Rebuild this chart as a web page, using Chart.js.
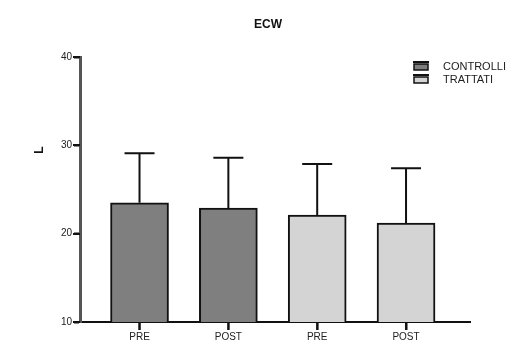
<!DOCTYPE html>
<html>
<head>
<meta charset="utf-8">
<script src="https://cdn.jsdelivr.net/npm/chart.js@4.4.0/dist/chart.umd.min.js"></script>
<style>
html,body{margin:0;padding:0;background:#fff;}
#wrap{width:530px;height:345px;position:relative;}
</style>
</head>
<body>
<div id="wrap"><canvas id="c" width="530" height="345"></canvas></div>
<script>
const chartTitle = 'ECW';
const yAxisTitle = 'L';
const categories = ['PRE', 'POST', 'PRE', 'POST'];
const positions = [1, 2, 3, 4];
const controlliPositions = [1, 2];
const controlliMeans = [23.5, 22.9];
const controlliSD = [5.6, 5.7];
const trattatiPositions = [3, 4];
const trattatiMeans = [22.1, 21.2];
const trattatiSD = [5.8, 6.2];
const yTicks = [10, 20, 30, 40];

const FONT = "'Liberation Sans', Arial, sans-serif";

const errorBarPlugin = {
  id: 'errorBars',
  afterDatasetsDraw(chart) {
    const ctx = chart.ctx;
    const y = chart.scales.y;
    chart.data.datasets.forEach((ds, i) => {
      const meta = chart.getDatasetMeta(i);
      meta.data.forEach((bar, j) => {
        const top = y.getPixelForValue(ds.data[j].y + ds.sd[j]);
        ctx.save();
        ctx.strokeStyle = '#111';
        ctx.lineWidth = 2;
        ctx.beginPath();
        ctx.moveTo(bar.x, bar.y);
        ctx.lineTo(bar.x, top);
        ctx.moveTo(bar.x - 15, top);
        ctx.lineTo(bar.x + 15, top);
        ctx.stroke();
        ctx.restore();
      });
    });
  }
};

const decorPlugin = {
  id: 'decor',
  afterDraw(chart) {
    const ctx = chart.ctx;
    ctx.save();
    ctx.fillStyle = '#111';
    ctx.font = 'bold 12px ' + FONT;
    ctx.textAlign = 'center';
    ctx.textBaseline = 'middle';
    ctx.fillText(chartTitle, 268, 25);
    // y-axis title
    ctx.save();
    ctx.translate(40, 150);
    ctx.rotate(-Math.PI / 2);
    ctx.font = 'bold 12px ' + FONT;
    ctx.fillText(yAxisTitle, 0, 0);
    ctx.restore();
    // legend
    ctx.font = '11px ' + FONT;
    ctx.textAlign = 'left';
    chart.data.datasets.forEach((ds, i) => {
      const cy = 66 + i * 13;
      const x0 = 414, w = 14;
      ctx.fillStyle = ds.backgroundColor;
      ctx.fillRect(x0, cy - 2, w, 6);
      ctx.strokeStyle = '#111';
      ctx.lineWidth = 1.5;
      ctx.strokeRect(x0, cy - 2, w, 6);
      ctx.lineWidth = 2;
      ctx.beginPath();
      ctx.moveTo(x0 - 1, cy - 4);
      ctx.lineTo(x0 + w + 1, cy - 4);
      ctx.stroke();
      ctx.fillStyle = '#222';
      ctx.fillText(ds.label, 443, cy + 1);
    });
    // tick marks
    const xs = chart.scales.x, ys = chart.scales.y;
    ctx.strokeStyle = '#111';
    ctx.lineWidth = 2;
    ctx.beginPath();
    positions.forEach(p => {
      const px = xs.getPixelForValue(p);
      ctx.moveTo(px, ys.bottom);
      ctx.lineTo(px, ys.bottom + 8);
    });
    yTicks.forEach(t => {
      const py = Math.round(ys.getPixelForValue(t));
      ctx.moveTo(xs.left - 7, py);
      ctx.lineTo(xs.left, py);
    });
    ctx.stroke();
    ctx.restore();
  }
};

new Chart(document.getElementById('c'), {
  type: 'bar',
  data: {
    datasets: [
      {
        label: 'CONTROLLI',
        data: controlliPositions.map((p, i) => ({ x: p, y: controlliMeans[i] })),
        sd: controlliSD,
        backgroundColor: '#7f7f7f',
        borderColor: '#111',
        borderWidth: 2,
        borderSkipped: false,
        barThickness: 58,
        grouped: false
      },
      {
        label: 'TRATTATI',
        data: trattatiPositions.map((p, i) => ({ x: p, y: trattatiMeans[i] })),
        sd: trattatiSD,
        backgroundColor: '#d4d4d4',
        borderColor: '#111',
        borderWidth: 2,
        borderSkipped: false,
        barThickness: 58,
        grouped: false
      }
    ]
  },
  options: {
    responsive: false,
    animation: false,
    devicePixelRatio: 1,
    layout: { padding: { left: 30, top: 57, right: 60, bottom: 0 } },
    plugins: { legend: { display: false }, title: { display: false }, tooltip: { enabled: false } },
    scales: {
      x: {
        type: 'linear',
        offset: false,
        min: 0.33,
        max: 4.72,
        afterBuildTicks(scale) { scale.ticks = positions.map(v => ({ value: v })); },
        afterFit(scale) { scale.height = 23; },
        grid: { offset: false, drawOnChartArea: false, drawTicks: true, tickLength: 8, tickColor: '#111', tickWidth: 2 },
        border: { color: '#111', width: 2 },
        ticks: {
          autoSkip: false,
          maxRotation: 0,
          padding: 1,
          color: '#222',
          font: { family: FONT, size: 10 },
          callback: (v) => categories[positions.indexOf(v)] || ''
        }
      },
      y: {
        min: 10,
        max: 40,
        afterBuildTicks(scale) { scale.ticks = yTicks.map(v => ({ value: v })); },
        afterFit(scale) { scale.width = 50; },
        grid: { drawOnChartArea: false, drawTicks: true, tickLength: 6, tickColor: '#111', tickWidth: 2 },
        border: { color: '#555', width: 3 },
        ticks: {
          padding: 2,
          color: '#222',
          font: { family: FONT, size: 10 }
        }
      }
    }
  },
  plugins: [errorBarPlugin, decorPlugin]
});
</script>
</body>
</html>
